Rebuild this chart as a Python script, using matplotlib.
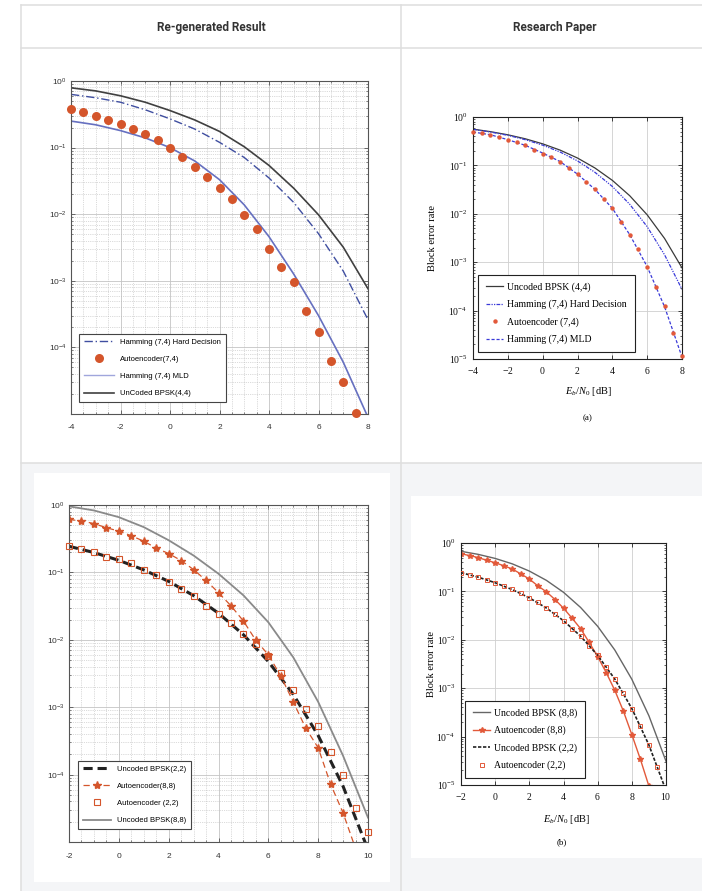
import numpy as np
import matplotlib
matplotlib.use('Agg')
import matplotlib.pyplot as plt
from matplotlib.lines import Line2D
from matplotlib.patches import Rectangle
from matplotlib.ticker import LogLocator, MultipleLocator, NullFormatter

plt.rcParams['mathtext.fontset'] = 'custom'
plt.rcParams['mathtext.rm'] = 'Liberation Serif'
plt.rcParams['mathtext.it'] = 'Liberation Serif:italic'
plt.rcParams['mathtext.sf'] = 'Liberation Sans'

W, H = 702, 891

# ── Data: (7,4) comparison, Eb/N0 in dB ──────────────────────────────────────
snr_a = [-4, -3, -2, -1, 0, 1, 2, 3, 4, 5, 6, 7, 8]
snr_a_half = [-4, -3.5, -3, -2.5, -2, -1.5, -1, -0.5, 0, 0.5, 1, 1.5, 2, 2.5,
              3, 3.5, 4, 4.5, 5, 5.5, 6, 6.5, 7, 7.5, 8]

# re-generated result
uncoded44_regen = [0.79, 0.71, 0.60, 0.48, 0.36, 0.26, 0.175, 0.103, 0.054,
                   0.0245, 0.0098, 0.0032, 7.6e-4]
hamming_hd_regen = [0.63, 0.56, 0.48, 0.37, 0.27, 0.19, 0.12, 0.071, 0.035,
                    0.015, 0.0051, 0.0014, 2.6e-4]
hamming_mld_regen = [0.25, 0.22, 0.18, 0.14, 0.10, 0.063, 0.033, 0.0138,
                     0.0046, 0.00126, 3.0e-4, 6.0e-5, 8.9e-6]
ae74_regen = [0.38, 0.34, 0.30, 0.26, 0.23, 0.19, 0.16, 0.13, 0.098, 0.072,
              0.051, 0.036, 0.025, 0.017, 0.0098, 0.0059, 0.0030, 0.0016,
              9.5e-4, 3.5e-4, 1.7e-4, 6.2e-5, 3.0e-5, 1.02e-5]

# research paper
uncoded44_paper = [0.561, 0.498, 0.429, 0.355, 0.279, 0.207, 0.142, 0.0885,
                   0.0491, 0.0236, 0.00953, 0.00309, 7.64e-4]
hamming_hd_paper = [0.555, 0.489, 0.418, 0.340, 0.262, 0.189, 0.124, 0.072,
                    0.0367, 0.0157, 0.00542, 0.00142, 2.75e-4]
hamming_mld_paper = [0.49, 0.43, 0.34, 0.26, 0.18, 0.12, 0.066, 0.032, 0.013,
                     0.0037, 8.1e-4, 1.2e-4, 1.1e-5]
ae74_paper = [0.491, 0.468, 0.433, 0.387, 0.341, 0.305, 0.261, 0.212, 0.176,
              0.150, 0.118, 0.0904, 0.0659, 0.0458, 0.0318, 0.0207, 0.0129,
              0.00687, 0.00365, 0.00185, 8.1e-4, 3.1e-4, 1.22e-4, 3.4e-5,
              1.13e-5]

# ── Data: (2,2) / (8,8) comparison ───────────────────────────────────────────
snr_b = [-2, -1, 0, 1, 2, 3, 4, 5, 6, 7, 8, 9, 10]
snr_b_half = [-2, -1.5, -1, -0.5, 0, 0.5, 1, 1.5, 2, 2.5, 3, 3.5, 4, 4.5, 5,
              5.5, 6, 6.5, 7, 7.5, 8, 8.5, 9, 9.5, 10]

uncoded22 = [0.244, 0.197, 0.151, 0.109, 0.0736, 0.0453, 0.0248, 0.0119,
             0.00477, 0.00155, 3.8e-4, 6.7e-5, 7.7e-6]
uncoded88_regen = [0.955, 0.83, 0.66, 0.47, 0.30, 0.178, 0.0955, 0.0457,
                   0.0182, 0.0055, 0.0012, 1.9e-4, 2.3e-5]
ae88_regen = [0.61, 0.58, 0.53, 0.46, 0.41, 0.35, 0.29, 0.23, 0.19, 0.15,
              0.11, 0.076, 0.050, 0.032, 0.019, 0.0098, 0.0060, 0.0029,
              0.0012, 4.9e-4, 2.5e-4, 7.2e-5, 2.7e-5, 8.0e-6]
ae22_regen = [0.25, 0.22, 0.20, 0.17, 0.16, 0.14, 0.11, 0.091, 0.072, 0.057,
              0.044, 0.032, 0.024, 0.018, 0.012, 0.0087, 0.0058, 0.0032,
              0.0018, 9.4e-4, 5.3e-4, 2.2e-4, 9.9e-5, 3.2e-5, 1.4e-5]

uncoded88_paper = [0.674, 0.583, 0.480, 0.371, 0.263, 0.169, 0.0958, 0.0466,
                   0.0190, 0.00617, 0.00153, 2.69e-4, 3.1e-5]
ae88_paper = [0.60, 0.55, 0.50, 0.44, 0.39, 0.34, 0.29, 0.23, 0.18, 0.13,
              0.098, 0.068, 0.045, 0.028, 0.017, 0.0089, 0.0045, 0.0021,
              9.1e-4, 3.4e-4, 1.1e-4, 3.4e-5, 9.5e-6]
ae22_paper = [0.245, 0.219, 0.195, 0.174, 0.151, 0.129, 0.110, 0.091, 0.074,
              0.059, 0.046, 0.034, 0.025, 0.017, 0.0117, 0.0076, 0.0048,
              0.0028, 0.00155, 7.9e-4, 3.8e-4, 1.66e-4, 6.8e-5, 2.4e-5, 7.9e-6]

ticks_a = [-4, -2, 0, 2, 4, 6, 8]
ticks_b = [-2, 0, 2, 4, 6, 8, 10]

# ── Colours ──────────────────────────────────────────────────────────────────
ORANGE = '#d4552b'
ORANGE_P = '#e2593a'
BLUE_HD = '#3f4ea0'
BLUE_MLD = '#6670c0'
BLUE_P = '#3a3ad8'
GRID_BG = '#f4f5f7'
TABLE_LINE = '#dedede'


# ── Helpers ──────────────────────────────────────────────────────────────────
def rect(l, t, r, b):
    return [l / W, 1 - b / H, (r - l) / W, (b - t) / H]


def fx(x):
    return x / W


def fy(y):
    return 1 - y / H


def box(l, t, r, b, color, z=-2):
    fig.add_artist(Rectangle((fx(l), fy(b)), (r - l) / W, (b - t) / H,
                             transform=fig.transFigure, facecolor=color,
                             edgecolor='none', zorder=z))


def hline(y, x0, x1):
    fig.add_artist(Line2D([fx(x0), fx(x1)], [fy(y), fy(y)],
                          transform=fig.transFigure, color=TABLE_LINE,
                          lw=1.1, zorder=-1))


def vline(x, y0, y1):
    fig.add_artist(Line2D([fx(x), fx(x)], [fy(y0), fy(y1)],
                          transform=fig.transFigure, color=TABLE_LINE,
                          lw=1.1, zorder=-1))


def log_axis(ax, xlim, xticks):
    ax.set_yscale('log')
    ax.set_xlim(*xlim)
    ax.set_ylim(1e-5, 1)
    ax.set_xticks(xticks)
    ax.yaxis.set_minor_locator(LogLocator(base=10, subs=np.arange(2, 10),
                                          numticks=20))
    ax.yaxis.set_minor_formatter(NullFormatter())
    ax.tick_params(which='both', direction='in', top=True, right=True)


def style_matlab(ax, xlim, xticks, xpad):
    log_axis(ax, xlim, xticks)
    ax.set_yticks([1, 1e-1, 1e-2, 1e-3, 1e-4])
    ax.set_yticklabels([r'$\mathsf{10^{%d}}$' % e for e in [0, -1, -2, -3, -4]])
    ax.set_xticklabels([str(t) for t in xticks], family='Liberation Sans')
    ax.xaxis.set_minor_locator(MultipleLocator(0.5))
    ax.grid(which='major', color='#c4c4c4', lw=0.6, ls='-')
    ax.grid(which='minor', color='#b8b8b8', lw=0.5, ls=':')
    ax.tick_params(which='major', length=3, width=0.6, color='#555555',
                   labelsize=6, labelcolor='#333333')
    ax.tick_params(which='minor', length=1.5, width=0.5, color='#555555')
    ax.tick_params(axis='x', pad=xpad)
    ax.tick_params(axis='y', pad=3)
    for s in ax.spines.values():
        s.set_color('#555555')
        s.set_linewidth(0.8)
    ax.set_axisbelow(True)


def style_paper(ax, xlim, xticks):
    log_axis(ax, xlim, xticks)
    ax.set_yticks([1, 1e-1, 1e-2, 1e-3, 1e-4, 1e-5])
    ax.set_yticklabels([r'$10^{%d}$' % e for e in [0, -1, -2, -3, -4, -5]])
    ax.set_xticklabels([r'$%d$' % t if t >= 0 else r'$-%d$' % -t
                        for t in xticks])
    ax.grid(which='major', color='#cfcfcf', lw=0.6, ls='-')
    ax.tick_params(which='major', length=3, width=0.6, color='#222222',
                   labelsize=7, labelcolor='#111111', pad=4)
    ax.tick_params(which='minor', length=1.5, width=0.5, color='#222222')
    for s in ax.spines.values():
        s.set_color('#222222')
        s.set_linewidth(0.8)
    ax.set_axisbelow(True)


def legend(ax, handles, labels, anchor, prop, **kw):
    leg = ax.legend(handles, labels, loc='lower left',
                    bbox_to_anchor=(fx(anchor[0]), fy(anchor[1])),
                    bbox_transform=fig.transFigure, prop=prop,
                    frameon=True, fancybox=False, framealpha=1,
                    borderaxespad=0, **kw)
    leg.get_frame().set_linewidth(0.8)
    return leg


# ── Figure and table ─────────────────────────────────────────────────────────
fig = plt.figure(figsize=(W / 100, H / 100), dpi=100)
fig.patch.set_facecolor('white')

box(21, 463, 702, 891, GRID_BG)
box(34, 473, 390, 882, 'white', z=-1.5)
box(411, 496, 702, 858, 'white', z=-1.5)

hline(5, 21, 702)
hline(48, 21, 702)
hline(463, 21, 702)
vline(21, 5, 891)
vline(401, 5, 891)

fig.text(fx(211), fy(27), 'Re-generated Result', ha='center', va='center',
         family='Roboto', weight='bold', size=8.5, color='#333333')
fig.text(fx(555), fy(27), 'Research Paper', ha='center', va='center',
         family='Roboto', weight='bold', size=8.5, color='#333333')

# ── Top-left: re-generated (7,4) ─────────────────────────────────────────────
axA = fig.add_axes(rect(71, 81, 368, 414))
style_matlab(axA, (-4, 8), ticks_a, xpad=7)
axA.plot(snr_a, hamming_mld_regen, color=BLUE_MLD, lw=1.2)
axA.plot(snr_a, hamming_hd_regen, color=BLUE_HD, lw=1.0, dashes=(6, 2, 1, 2))
axA.plot(snr_a, uncoded44_regen, color='#404040', lw=1.2)
axA.plot(snr_a_half[:-1], ae74_regen, 'o', color=ORANGE, ms=6.5, mec='none',
         clip_on=False, zorder=5)
legend(axA,
       [Line2D([], [], color=BLUE_HD, lw=1.0, dashes=(6, 2, 1, 2)),
        Line2D([], [], ls='none', marker='o', color=ORANGE, ms=6.5, mec='none'),
        Line2D([], [], color='#a0a6dc', lw=1.0),
        Line2D([], [], color='#404040', lw=1.2)],
       ['Hamming (7,4) Hard Decision', 'Autoencoder(7,4)',
        'Hamming (7,4) MLD', 'UnCoded BPSK(4,4)'],
       (79, 402), {'family': 'Liberation Sans', 'size': 5.5},
       edgecolor='#444444', handlelength=4.0, handletextpad=0.8,
       labelspacing=1.3, borderpad=0.6)

# ── Top-right: paper (7,4) ───────────────────────────────────────────────────
axB = fig.add_axes(rect(473, 117, 682, 359))
style_paper(axB, (-4, 8), ticks_a)
axB.plot(snr_a, uncoded44_paper, color='#3a3a3a', lw=0.9)
axB.plot(snr_a, hamming_hd_paper, color=BLUE_P, lw=0.9,
         dashes=(3, 1, 1, 1, 1, 1))
axB.plot(snr_a, hamming_mld_paper, color=BLUE_P, lw=0.9, dashes=(2.5, 1.5))
axB.plot(snr_a_half, ae74_paper, 'o', color=ORANGE_P, ms=3.2, mec='none',
         clip_on=False, zorder=5)
legend(axB,
       [Line2D([], [], color='#3a3a3a', lw=0.9),
        Line2D([], [], color=BLUE_P, lw=0.9, dashes=(3, 1, 1, 1, 1, 1)),
        Line2D([], [], ls='none', marker='o', color=ORANGE_P, ms=3.2, mec='none'),
        Line2D([], [], color=BLUE_P, lw=0.9, dashes=(2.5, 1.5))],
       ['Uncoded BPSK (4,4)', 'Hamming (7,4) Hard Decision',
        'Autoencoder (7,4)', 'Hamming (7,4) MLD'],
       (478, 352), {'family': 'Liberation Serif', 'size': 7},
       edgecolor='#222222', handlelength=1.8, handletextpad=0.4,
       labelspacing=0.8, borderpad=0.8)
fig.text(fx(433), fy(238), 'Block error rate', rotation=90, ha='center',
         va='center', family='Liberation Serif', size=7.5)
fig.text(fx(588), fy(392), r'$E_b/N_0$ [dB]', ha='center', va='center',
         family='Liberation Serif', size=7.5)
fig.text(fx(588), fy(418), '(a)', ha='center', va='center',
         family='Liberation Serif', size=6.5)

# ── Bottom-left: re-generated (2,2)/(8,8) ────────────────────────────────────
axC = fig.add_axes(rect(69, 505, 368, 842))
style_matlab(axC, (-2, 10), ticks_b, xpad=8)
axC.plot(snr_b, uncoded88_regen, color='#8a8a8a', lw=1.3)
axC.plot(snr_b, uncoded22, color='#222222', lw=2.2, dashes=(3, 1.6))
axC.plot(snr_b_half[:-1], ae88_regen, color=ORANGE, lw=0.9, dashes=(5, 3),
         marker='*', ms=6, mec=ORANGE, mfc=ORANGE)
axC.plot(snr_b_half, ae22_regen, 's', ms=4.5, mfc='none', mec=ORANGE,
         mew=0.8, clip_on=False, zorder=5)
legend(axC,
       [Line2D([], [], color='#222222', lw=2.2, dashes=(3, 1.6)),
        Line2D([], [], color=ORANGE, lw=0.9, dashes=(5, 3), marker='*', ms=6),
        Line2D([], [], ls='none', marker='s', ms=4.5, mfc='none', mec=ORANGE,
               mew=0.8),
        Line2D([], [], color='#8a8a8a', lw=1.3)],
       ['Uncoded BPSK(2,2)', 'Autoencoder(8,8)', 'Autoencoder (2,2)',
        'Uncoded BPSK(8,8)'],
       (78, 829), {'family': 'Liberation Sans', 'size': 5.5},
       edgecolor='#444444', handlelength=3.7, handletextpad=0.8,
       labelspacing=1.3, borderpad=0.6)

# ── Bottom-right: paper (2,2)/(8,8) ──────────────────────────────────────────
axD = fig.add_axes(rect(461, 543, 666, 785))
style_paper(axD, (-2, 10), ticks_b)
axD.plot(snr_b, uncoded88_paper, color='#666666', lw=1.0)
axD.plot(snr_b_half[:-2], ae88_paper, color=ORANGE_P, lw=1.0, marker='*',
         ms=4, mec=ORANGE_P)
axD.plot(snr_b, uncoded22, color='#222222', lw=1.2, dashes=(2, 1))
axD.plot(snr_b_half, ae22_paper, 's', ms=2.8, mfc='none', mec=ORANGE_P,
         mew=0.7, zorder=5)
legend(axD,
       [Line2D([], [], color='#666666', lw=1.0),
        Line2D([], [], color=ORANGE_P, lw=1.0, marker='*', ms=4),
        Line2D([], [], color='#222222', lw=1.2, dashes=(2, 1)),
        Line2D([], [], ls='none', marker='s', ms=2.8, mfc='none',
               mec=ORANGE_P, mew=0.7)],
       ['Uncoded BPSK (8,8)', 'Autoencoder (8,8)', 'Uncoded BPSK (2,2)',
        'Autoencoder (2,2)'],
       (465, 778), {'family': 'Liberation Serif', 'size': 7},
       edgecolor='#222222', handlelength=1.8, handletextpad=0.4,
       labelspacing=0.8, borderpad=0.8)
fig.text(fx(432), fy(664), 'Block error rate', rotation=90, ha='center',
         va='center', family='Liberation Serif', size=7.5)
fig.text(fx(566), fy(820), r'$E_b/N_0$ [dB]', ha='center', va='center',
         family='Liberation Serif', size=7.5)
fig.text(fx(562), fy(842), '(b)', ha='center', va='center',
         family='Liberation Serif', size=6.5)

fig.savefig('out.png', dpi=100, facecolor=fig.get_facecolor())
